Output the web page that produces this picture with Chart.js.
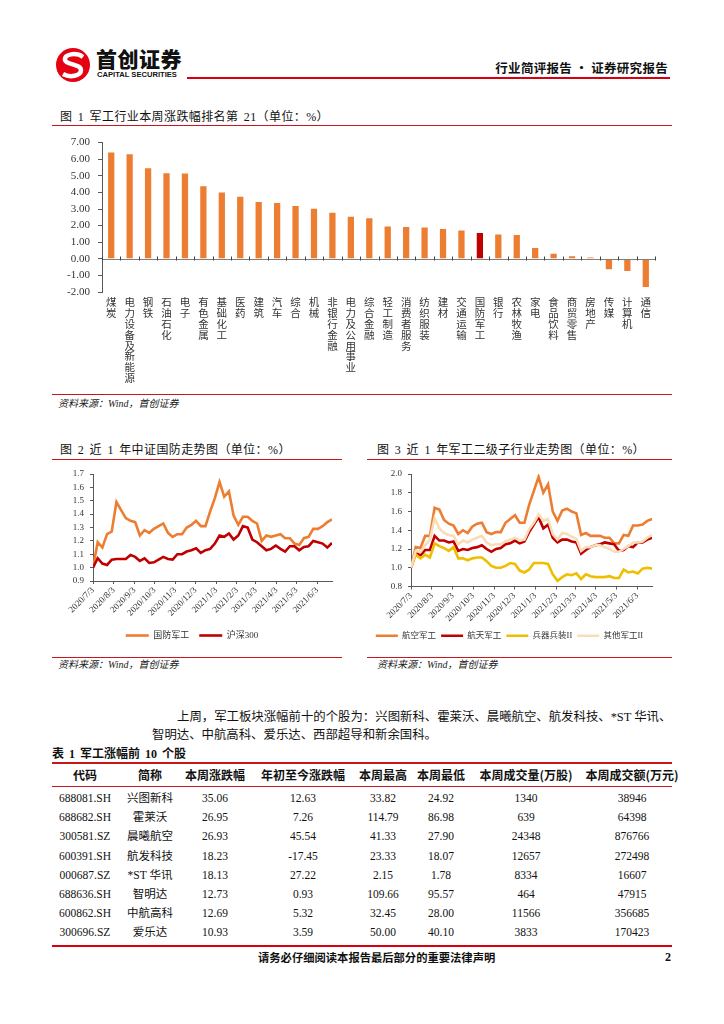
<!DOCTYPE html>
<html lang="zh-CN">
<head>
<meta charset="utf-8">
<title>军工行业简评报告</title>
<script src="https://cdn.jsdelivr.net/npm/chart.js@4.4.1/dist/chart.umd.min.js"></script>
<style>
html,body{margin:0;padding:0;background:#fff}
body{width:724px;height:1024px;position:relative;overflow:hidden;font-family:"Liberation Serif","Noto Sans CJK SC",serif;color:#111}
.a{position:absolute;white-space:nowrap}
.rl{position:absolute;background:#c8161d;height:1px}
.ttl{font-size:12px;line-height:14px;color:#111;letter-spacing:0.4px;word-spacing:2px}
.src{font-size:10px;font-style:italic;line-height:12px;color:#222}
canvas{position:absolute}
.cell{position:absolute;width:130px;text-align:center;font-size:11.5px;line-height:14px;white-space:nowrap;color:#111}
.hd{font-family:"Noto Sans CJK SC",sans-serif;font-weight:700;font-size:12px}
</style>
</head>
<body>
<!-- header -->
<svg class="a" style="left:55px;top:47px" width="36" height="36" viewBox="0 0 36 36">
  <circle cx="18" cy="18" r="17" fill="#e50012"/>
  <path d="M28 10 C21 5 9 7 10 13 C11 18 26 17 26 23 C26 29 15 31 8 27" stroke="#fff" stroke-width="4.5" fill="none"/>
</svg>
<div class="a" style="left:96px;top:46px;font-family:'Noto Sans CJK SC';font-weight:900;font-size:21px;line-height:24px;color:#111;letter-spacing:0.5px">首创证券</div>
<div class="a" style="left:97px;top:70px;font-family:'Liberation Sans';font-weight:700;font-size:7.6px;line-height:9px;color:#111">CAPITAL SECURITIES</div>
<div class="a" style="left:187px;top:77px;width:483px;height:2px;background:#d7000f"></div>
<div class="a" style="right:56px;top:60px;font-family:'Noto Sans CJK SC';font-weight:700;font-size:12.5px;line-height:15px;color:#111;letter-spacing:0.3px">行业简评报告 · 证券研究报告</div>

<!-- figure 1 -->
<div class="a ttl" style="left:60px;top:110px">图 1 军工行业本周涨跌幅排名第 21（单位：%）</div>
<div class="rl" style="left:52px;top:125px;width:620px"></div>
<canvas id="c1" width="620" height="264" style="left:52px;top:128px"></canvas>
<div class="rl" style="left:52px;top:394px;width:620px"></div>
<div class="a src" style="left:58px;top:398px">资料来源：Wind，首创证券</div>

<!-- figure 2 & 3 -->
<div class="a ttl" style="left:60px;top:443px">图 2 近 1 年中证国防走势图（单位：%）</div>
<div class="rl" style="left:52px;top:459px;width:290px"></div>
<div class="a ttl" style="left:377px;top:443px">图 3 近 1 年军工二级子行业走势图（单位：%）</div>
<div class="rl" style="left:367px;top:459px;width:305px"></div>
<canvas id="c2" width="290" height="188" style="left:52px;top:462px"></canvas>
<canvas id="c3" width="305" height="188" style="left:367px;top:462px"></canvas>
<div class="rl" style="left:52px;top:657px;width:290px"></div>
<div class="rl" style="left:367px;top:657px;width:305px"></div>
<div class="a src" style="left:58px;top:659px">资料来源：Wind，首创证券</div>
<div class="a src" style="left:377px;top:659px">资料来源：Wind，首创证券</div>

<!-- paragraph -->
<div class="a" style="left:177px;top:709px;font-size:12.4px;line-height:16px">上周，军工板块涨幅前十的个股为：兴图新科、霍莱沃、晨曦航空、航发科技、*ST 华讯、</div>
<div class="a" style="left:152px;top:727px;font-size:12.4px;line-height:16px">智明达、中航高科、爱乐达、西部超导和新余国科。</div>

<!-- table -->
<div class="a" style="left:52px;top:747px;font-family:'Liberation Serif','Noto Sans CJK SC';font-weight:700;font-size:12px;line-height:15px;word-spacing:2px">表 1 军工涨幅前 10 个股</div>
<div class="a" style="left:52px;top:762px;width:620px;height:2px;background:#c8161d"></div>
<div class="a" style="left:52px;top:786px;width:620px;height:1px;background:#c8161d"></div>
<div class="a" style="left:52px;top:945px;width:620px;height:2px;background:#d7000f"></div>
<div id="tbl"></div>

<!-- footer -->
<div class="a" style="left:258px;top:950px;font-family:'Noto Sans CJK SC';font-weight:700;font-size:11.3px;line-height:14px">请务必仔细阅读本报告最后部分的重要法律声明</div>
<div class="a" style="left:665px;top:950px;font-weight:700;font-size:12px;line-height:14px">2</div>

<script>
// ---------------- Figure 1 data ----------------
const barCategories = ['煤炭','电力设备及新能源','钢铁','石油石化','电子','有色金属','基础化工','医药','建筑','汽车','综合','机械','非银行金融','电力及公用事业','综合金融','轻工制造','消费者服务','纺织服装','建材','交通运输','国防军工','银行','农林牧渔','家电','食品饮料','商贸零售','房地产','传媒','计算机','通信'];
const barValues = [6.40,6.30,5.45,5.16,5.14,4.37,3.99,3.74,3.42,3.36,3.18,3.02,2.77,2.53,2.45,1.94,1.92,1.88,1.80,1.70,1.56,1.46,1.44,0.65,0.30,0.16,0.08,-0.63,-0.73,-1.70];
const highlightCategory = '国防军工';
const barYTickLabels = ['-2.00','-1.00','0.00','1.00','2.00','3.00','4.00','5.00','6.00','7.00'];

// ---------------- Figure 2 / 3 data ----------------
const weekDates = ['2020/7/3','2020/7/10','2020/7/17','2020/7/24','2020/7/31','2020/8/7','2020/8/14','2020/8/21','2020/8/28','2020/9/4','2020/9/11','2020/9/18','2020/9/25','2020/10/2','2020/10/9','2020/10/16','2020/10/23','2020/10/30','2020/11/6','2020/11/13','2020/11/20','2020/11/27','2020/12/4','2020/12/11','2020/12/18','2020/12/25','2021/1/1','2021/1/8','2021/1/15','2021/1/22','2021/1/29','2021/2/5','2021/2/12','2021/2/19','2021/2/26','2021/3/5','2021/3/12','2021/3/19','2021/3/26','2021/4/2','2021/4/9','2021/4/16','2021/4/23','2021/4/30','2021/5/7','2021/5/14','2021/5/21','2021/5/28','2021/6/4','2021/6/11','2021/6/18','2021/6/25'];
const monthTickLabels = ['2020/7/3','2020/8/3','2020/9/3','2020/10/3','2020/11/3','2020/12/3','2021/1/3','2021/2/3','2021/3/3','2021/4/3','2021/5/3','2021/6/3'];

const defenseIndex = [1.00,1.19,1.15,1.25,1.27,1.49,1.43,1.37,1.35,1.34, 1.24,1.28,1.26,1.29,1.31,1.33,1.26,1.23,1.25,1.25, 1.30,1.32,1.35,1.31,1.31,1.42,1.52,1.64,1.53,1.57, 1.39,1.32,1.38,1.38,1.35,1.33,1.20,1.24,1.23,1.24, 1.25,1.22,1.22,1.18,1.17,1.22,1.23,1.29,1.29,1.31, 1.34,1.36];
const hs300 = [1.00,1.07,1.03,1.02,1.06,1.065,1.065,1.065,1.095,1.08, 1.05,1.07,1.035,1.04,1.06,1.08,1.065,1.06,1.10,1.10, 1.12,1.13,1.145,1.11,1.13,1.14,1.18,1.24,1.23,1.255, 1.21,1.24,1.31,1.30,1.21,1.19,1.16,1.13,1.14,1.165, 1.14,1.12,1.16,1.16,1.13,1.155,1.16,1.20,1.19,1.18, 1.15,1.185];
const fig2Names = ['国防军工','沪深300'];
const fig2YTickLabels = ['0.9','1.0','1.1','1.2','1.3','1.4','1.5','1.6','1.7'];

const aviation = [1.00,1.22,1.21,1.34,1.34,1.64,1.62,1.51,1.47,1.45, 1.36,1.40,1.37,1.44,1.47,1.48,1.38,1.36,1.38,1.38, 1.48,1.52,1.56,1.48,1.48,1.67,1.82,1.97,1.80,1.89, 1.60,1.50,1.61,1.63,1.60,1.58,1.35,1.37,1.34,1.34, 1.34,1.32,1.32,1.26,1.26,1.35,1.34,1.45,1.45,1.46, 1.50,1.52];
const aerospace = [1.00,1.16,1.13,1.19,1.19,1.34,1.29,1.29,1.27,1.28, 1.18,1.20,1.19,1.21,1.22,1.24,1.20,1.17,1.20,1.21, 1.25,1.26,1.29,1.26,1.28,1.38,1.46,1.54,1.42,1.46, 1.32,1.27,1.30,1.30,1.28,1.27,1.15,1.19,1.22,1.24, 1.25,1.27,1.26,1.25,1.18,1.19,1.23,1.22,1.27,1.27, 1.30,1.32];
const ordnance = [1.00,1.14,1.10,1.14,1.11,1.26,1.23,1.21,1.18,1.22, 1.10,1.10,1.08,1.10,1.11,1.11,1.07,1.02,1.00,1.00, 1.02,1.05,1.04,0.97,0.95,0.98,1.05,1.05,1.05,1.04, 0.93,0.86,0.90,0.93,0.92,0.94,0.88,0.93,0.91,0.90, 0.90,0.90,0.91,0.89,0.89,0.98,0.95,0.96,0.94,0.99, 1.00,0.99];
const otherMil = [1.00,1.18,1.17,1.24,1.30,1.53,1.42,1.37,1.35,1.34, 1.25,1.29,1.27,1.30,1.32,1.34,1.27,1.24,1.25,1.25, 1.28,1.30,1.32,1.29,1.30,1.41,1.48,1.57,1.50,1.52, 1.36,1.30,1.37,1.36,1.33,1.31,1.18,1.22,1.22,1.24, 1.24,1.22,1.20,1.17,1.17,1.20,1.23,1.27,1.27,1.28, 1.32,1.35];
const fig3Names = ['航空军工','航天军工','兵器兵装II','其他军工II'];
const fig3YTickLabels = ['0.8','1.0','1.2','1.4','1.6','1.8','2.0'];

// ---------------- Table data ----------------
const tableHeaders = ['代码','简称','本周涨跌幅','年初至今涨跌幅','本周最高','本周最低','本周成交量(万股)','本周成交额(万元)'];
const stockCodes = ['688081.SH','688682.SH','300581.SZ','600391.SH','000687.SZ','688636.SH','600862.SH','300696.SZ'];
const stockNames = ['兴图新科','霍莱沃','晨曦航空','航发科技','*ST 华讯','智明达','中航高科','爱乐达'];
const weekChange = ['35.06','26.95','26.93','18.23','18.13','12.73','12.69','10.93'];
const ytdChange = ['12.63','7.26','45.54','-17.45','27.22','0.93','5.32','3.59'];
const weekHigh = ['33.82','114.79','41.33','23.33','2.15','109.66','32.45','50.00'];
const weekLow = ['24.92','86.98','27.90','18.07','1.78','95.57','28.00','40.10'];
const weekVolume = ['1340','639','24348','12657','8334','464','11566','3833'];
const weekAmount = ['38946','64398','876766','272498','16607','47915','356685','170423'];

// ---------------- Rendering ----------------
Chart.defaults.animation = false;
Chart.defaults.responsive = false;
Chart.defaults.plugins.tooltip.enabled = false;
const SERIF = "'Liberation Serif','Noto Sans CJK SC',serif";
const CJK = "'Noto Sans CJK SC',sans-serif";
const AXIS = '#595959';
const TXT = '#333333';

// Figure 1
const zeroAxis = {
  id: 'zeroAxis',
  afterDatasetsDraw(chart) {
    const {ctx, chartArea, scales: {x, y}} = chart;
    const y0 = Math.round(y.getPixelForValue(0)) + 0.5;
    ctx.save();
    ctx.strokeStyle = '#7f7f7f';
    ctx.lineWidth = 1;
    ctx.beginPath();
    ctx.moveTo(chartArea.left, y0);
    ctx.lineTo(chartArea.right, y0);
    ctx.stroke();
    ctx.strokeStyle = '#404040';
    const n = chart.data.labels.length;
    ctx.beginPath();
    for (let i = 0; i <= n; i++) {
      const px = Math.round(x.getPixelForValue(i - 0.5)) + 0.5;
      ctx.moveTo(px, y0 - 3);
      ctx.lineTo(px, y0 + 1);
    }
    ctx.stroke();
    ctx.restore();
  }
};
new Chart(document.getElementById('c1'), {
  type: 'bar',
  data: {
    labels: barCategories.map(s => Array.from(s)),
    datasets: [{
      data: barValues,
      backgroundColor: barCategories.map(c => c === highlightCategory ? '#C00000' : '#ED7D31'),
      barPercentage: 0.34,
      categoryPercentage: 1
    }]
  },
  options: {
    layout: {padding: {top: 13, right: 17, left: 0, bottom: 0}},
    plugins: {legend: {display: false}},
    scales: {
      x: {
        grid: {display: false, drawTicks: false},
        border: {display: false},
        ticks: {autoSkip: false, maxRotation: 0, minRotation: 0, padding: 5, color: TXT,
                font: {size: 10.5, family: CJK, lineHeight: 1.03}},
        afterFit: s => { s.height = 100; }
      },
      y: {
        min: -2, max: 7,
        afterBuildTicks: s => { s.ticks = barYTickLabels.map(l => ({value: parseFloat(l)})); },
        ticks: {autoSkip: false, callback: v => barYTickLabels.find(l => parseFloat(l) === v), color: TXT, padding: 8,
                font: {size: 11, family: SERIF}},
        grid: {drawOnChartArea: false, drawTicks: true, tickLength: 4, color: AXIS},
        border: {display: true, color: AXIS},
        afterFit: s => { s.width = 50; }
      }
    }
  },
  plugins: [zeroAxis]
});

// Line charts
const dayOf = s => {
  const [yy, mm, dd] = s.split('/').map(Number);
  const [y0, m0, d0] = weekDates[0].split('/').map(Number);
  return Math.round((Date.UTC(yy, mm - 1, dd) - Date.UTC(y0, m0 - 1, d0)) / 86400000);
};
function lineChart(id, names, seriesList, colors, yLabels, yWidth, padRight, legendPad, legendFont, legendLine) {
  const n = seriesList.length;
  return new Chart(document.getElementById(id), {
    type: 'line',
    data: {
      datasets: seriesList.map((vals, i) => ({
        label: names[i],
        data: vals.map((v, k) => ({x: dayOf(weekDates[k]), y: v})),
        borderColor: colors[i],
        backgroundColor: colors[i],
        borderWidth: 2.6,
        pointRadius: 0,
        tension: 0,
        order: n - 1 - i
      }))
    },
    options: {
      layout: {padding: {top: 12, right: padRight, left: 0, bottom: 0}},
      plugins: {
        legend: {
          position: 'bottom',
          labels: {usePointStyle: true, pointStyle: 'line', pointStyleWidth: legendLine, padding: legendPad,
                   color: TXT, font: {size: legendFont, family: SERIF},
                   sort: (a, b) => a.datasetIndex - b.datasetIndex}
        }
      },
      scales: {
        x: {
          type: 'linear',
          min: 0,
          max: dayOf(weekDates[weekDates.length - 1]),
          afterBuildTicks: s => { s.ticks = monthTickLabels.map(l => ({value: dayOf(l)})); },
          ticks: {autoSkip: false, maxRotation: 45, minRotation: 45, padding: 1, color: TXT,
                  font: {size: 9, family: SERIF},
                  callback: (v) => monthTickLabels.find(l => dayOf(l) === v)},
          grid: {drawOnChartArea: false, drawTicks: true, tickLength: 3, color: AXIS},
          border: {display: true, color: AXIS},
          afterFit: s => { s.height = 40; }
        },
        y: {
          min: parseFloat(yLabels[0]),
          max: parseFloat(yLabels[yLabels.length - 1]),
          afterBuildTicks: s => { s.ticks = yLabels.map(l => ({value: parseFloat(l)})); },
          ticks: {autoSkip: false, color: TXT, padding: 6, font: {size: 9, family: SERIF},
                  callback: v => yLabels.find(l => Math.abs(parseFloat(l) - v) < 1e-9)},
          grid: {drawOnChartArea: false, drawTicks: true, tickLength: 3, color: AXIS},
          border: {display: true, color: AXIS},
          afterFit: s => { s.width = yWidth; }
        }
      }
    }
  });
}
lineChart('c2', fig2Names, [defenseIndex, hs300], ['#ED7D31', '#C00000'], fig2YTickLabels, 41, 10, 10, 9, 23);
lineChart('c3', fig3Names, [aviation, aerospace, ordnance, otherMil], ['#ED7D31', '#C00000', '#F0BE00', '#F9DDB6'], fig3YTickLabels, 44, 20, 5, 8.5, 22);

// Table
(function () {
  const colCenters = [85, 150, 215, 303, 383, 441, 526, 632];
  const rowY = [798, 817.2, 836.4, 855.6, 874.8, 894, 913.2, 932.4];
  const tbl = document.getElementById('tbl');
  const add = (txt, cx, cy, cls) => {
    const d = document.createElement('div');
    d.className = 'cell ' + (cls || '');
    d.style.left = (cx - 65) + 'px';
    d.style.top = (cy - 7) + 'px';
    d.textContent = txt;
    tbl.appendChild(d);
  };
  tableHeaders.forEach((h, j) => add(h, colCenters[j], 775, 'hd'));
  const cols = [stockCodes, stockNames, weekChange, ytdChange, weekHigh, weekLow, weekVolume, weekAmount];
  stockCodes.forEach((_, i) => {
    cols.forEach((col, j) => add(col[i], colCenters[j], rowY[i]));
  });
})();
</script>
</body>
</html>
